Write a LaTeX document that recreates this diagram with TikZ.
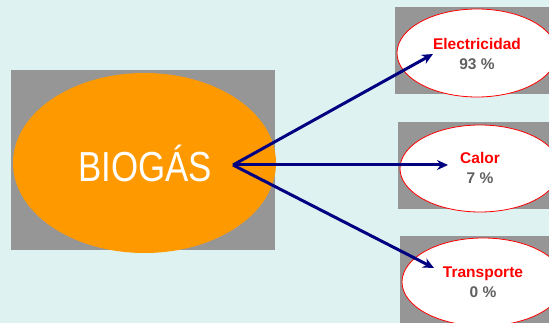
\documentclass[tikz,border=0pt]{standalone}
\usepackage{fontspec}
\setmainfont{Liberation Sans}
\usetikzlibrary{arrows.meta}
\definecolor{bgcyan}{HTML}{DFF2F2}
\definecolor{shadowgray}{HTML}{969696}
\definecolor{gasorange}{HTML}{FF9900}
\definecolor{navy}{HTML}{000080}
\definecolor{labelred}{HTML}{FF0000}
\definecolor{valgray}{HTML}{606060}
\tikzset{
  shadowbox/.style={fill=shadowgray, draw=none},
  useellipse/.style={draw=labelred, line width=0.8pt, fill=white},
  flow/.style={draw=navy, line width=3pt, -{Stealth[length=11pt,width=10pt]}},
  usetext/.style={align=center, font=\fontsize{15.5}{20}\selectfont\bfseries}
}
\begin{document}
\begin{tikzpicture}[x=1pt,y=-1pt]
  \useasboundingbox (0,0) rectangle (549,323);
  \clip (0,0) rectangle (549,323);
  \fill[bgcyan] (0,0) rectangle (549,323);

  % source: biogas
  \fill[shadowbox] (11,70) rectangle (275,250);
  \fill[gasorange] (144.5,163) ellipse [x radius=131.5, y radius=90];
  \node[text=white, font=\fontsize{42}{42}\selectfont, xscale=0.83, transform shape] (biogas) at (145,163) {BIOGÁS};
  \coordinate (hub) at (233,165);

  % end uses
  \fill[shadowbox] (395,7) rectangle (560,94);
  \draw[useellipse] (477,53) ellipse [x radius=80, y radius=44];
  \node[usetext] (elec) at (477,54) {\textcolor{labelred}{Electricidad}\\\textcolor{valgray}{93 \%}};

  \fill[shadowbox] (398,122) rectangle (560,209);
  \draw[useellipse] (480,168.5) ellipse [x radius=80, y radius=43.5];
  \node[usetext] (heat) at (480,168) {\textcolor{labelred}{Calor}\\\textcolor{valgray}{7 \%}};

  \fill[shadowbox] (400,236) rectangle (560,330);
  \draw[useellipse] (483,282) ellipse [x radius=81, y radius=44];
  \node[usetext] (trans) at (483,282) {\textcolor{labelred}{Transporte}\\\textcolor{valgray}{0 \%}};

  % flows
  \coordinate (elecin) at (433,54);
  \coordinate (heatin) at (448,165);
  \coordinate (transin) at (434,268);
  \draw[flow] (hub) -- (elecin);
  \draw[flow] (hub) -- (heatin);
  \draw[flow] (hub) -- (transin);
\end{tikzpicture}
\end{document}
